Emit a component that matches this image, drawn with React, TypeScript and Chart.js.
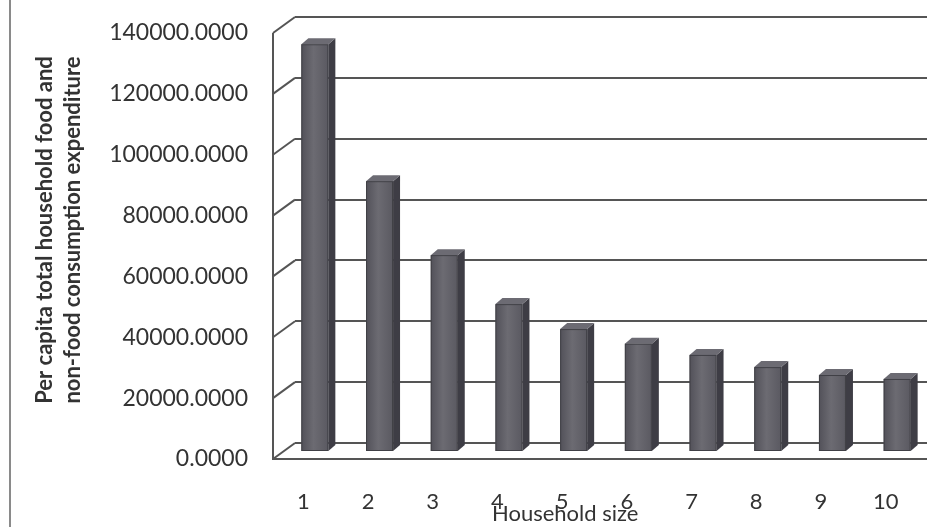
import React, { useEffect, useRef } from "react";
import { Chart, registerables } from "chart.js";

Chart.register(...registerables);

const categories = ["1", "2", "3", "4", "5", "6", "7", "8", "9", "10"];
const expenditure = [134000, 89000, 64700, 48600, 40400, 35600, 31900, 27900, 25300, 24000];
const yTicks = [0, 20000, 40000, 60000, 80000, 100000, 120000, 140000];
const yTitleLines = ["Per capita total household food and", "non-food consumption expenditure"];
const xTitle = "Household size";

const DEPTH_X = 22; // wall depth (px)
const DEPTH_Y = 16;
const LINE = "#555555";

const wallPlugin = {
  id: "wall3d",
  beforeDatasetsDraw(chart: any) {
    const { ctx, chartArea } = chart;
    const y = chart.scales.y;
    const fx = chartArea.left - DEPTH_X;
    ctx.save();
    ctx.strokeStyle = LINE;
    ctx.lineWidth = 2;
    yTicks.forEach((t) => {
      const py = y.getPixelForValue(t);
      ctx.beginPath();
      ctx.moveTo(fx, py + DEPTH_Y);
      ctx.lineTo(chartArea.left, py);
      ctx.stroke();
    });
    const topY = y.getPixelForValue(yTicks[yTicks.length - 1]) + DEPTH_Y;
    const botY = y.getPixelForValue(0) + DEPTH_Y;
    ctx.beginPath();
    ctx.moveTo(fx, topY);
    ctx.lineTo(fx, botY);
    ctx.lineTo(chart.width, botY);
    ctx.stroke();
    ctx.restore();
  },
  afterDatasetsDraw(chart: any) {
    const { ctx } = chart;
    const meta = chart.getDatasetMeta(0);
    const faceW = 27;
    const sx = 7;
    const sy = 6;
    const shiftY = 9;
    ctx.save();
    meta.data.forEach((el: any) => {
      const l = el.x - 26;
      const r = l + faceW;
      const top = el.y + shiftY;
      const bot = el.base + shiftY;
      // side
      ctx.fillStyle = "#3e3d45";
      ctx.beginPath();
      ctx.moveTo(r, top);
      ctx.lineTo(r + sx, top - sy);
      ctx.lineTo(r + sx, bot - sy);
      ctx.lineTo(r, bot);
      ctx.closePath();
      ctx.fill();
      // cap
      ctx.fillStyle = "#6c6b73";
      ctx.beginPath();
      ctx.moveTo(l, top);
      ctx.lineTo(l + sx, top - sy);
      ctx.lineTo(r + sx, top - sy);
      ctx.lineTo(r, top);
      ctx.closePath();
      ctx.fill();
      // face
      const g = ctx.createLinearGradient(l, 0, r, 0);
      g.addColorStop(0, "#525159");
      g.addColorStop(0.45, "#6c6b72");
      g.addColorStop(1, "#5a5961");
      ctx.fillStyle = g;
      ctx.fillRect(l, top, faceW, bot - top);
      ctx.strokeStyle = "#404046";
      ctx.lineWidth = 1;
      ctx.strokeRect(l + 0.5, top + 0.5, faceW - 1, bot - top - 1);
    });
    ctx.restore();
  },
};

export default function App() {
  const ref = useRef<HTMLCanvasElement | null>(null);

  useEffect(() => {
    document.body.style.margin = "0";
    document.body.style.overflow = "hidden";
    const canvas = ref.current;
    if (!canvas) return;
    const chart = new Chart(canvas, {
      type: "bar",
      data: {
        labels: categories,
        datasets: [
          {
            data: expenditure,
            backgroundColor: "rgba(0,0,0,0)",
            borderWidth: 0,
          },
        ],
      },
      options: {
        responsive: false,
        animation: false,
        events: [],
        layout: { padding: { top: 17, right: 18, left: 0, bottom: 0 } },
        plugins: { legend: { display: false }, tooltip: { enabled: false } },
        scales: {
          x: {
            grid: { display: false },
            border: { display: false },
            ticks: {
              color: "#333",
              font: { family: "Lato", size: 22 },
              padding: 38,
              labelOffset: -24,
              maxRotation: 0,
            },
            afterFit: (s: any) => {
              s.height = 84;
              s.paddingLeft = 0;
              s.paddingRight = 0;
            },
          },
          y: {
            min: 0,
            max: 140000,
            grid: { color: LINE, lineWidth: 2, drawTicks: false },
            border: { display: false },
            ticks: {
              stepSize: 20000,
              color: "#333",
              font: { family: "Lato", size: 23 },
              padding: 47,
              labelOffset: 16,
              callback: (v: any) => Number(v).toFixed(4),
            },
            title: {
              display: true,
              text: yTitleLines,
              color: "#333",
              font: { family: "Lato", size: 22, weight: "bold", lineHeight: 1.27 },
              padding: { top: 31, bottom: 0 },
            },
            afterFit: (s: any) => {
              s.width = 295;
              s.paddingTop = 0;
              s.paddingBottom = 0;
            },
          },
        },
      },
      plugins: [wallPlugin],
    });
    return () => chart.destroy();
  }, []);

  return (
    <div style={{ position: "relative", width: 927, height: 527, overflow: "hidden", background: "#fff" }}>
      <canvas ref={ref} width={960} height={527} style={{ position: "absolute", left: 0, top: 0, width: 960, height: 527 }} />
      <div style={{ position: "absolute", left: 9, top: 0, width: 2, height: 527, background: "#8a8a8a" }} />
      <div
        style={{
          position: "absolute",
          left: 492,
          top: 500,
          fontFamily: "Lato",
          fontSize: 22,
          lineHeight: "26px",
          color: "#333",
          whiteSpace: "nowrap",
        }}
      >
        {xTitle}
      </div>
    </div>
  );
}
